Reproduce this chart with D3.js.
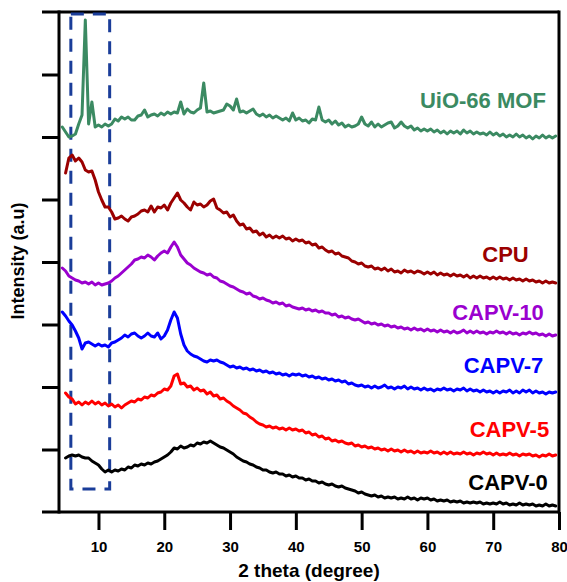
<!DOCTYPE html>
<html>
<head>
<meta charset="utf-8">
<script src="https://cdn.jsdelivr.net/npm/d3@7"></script>
<style>
  html, body { margin: 0; padding: 0; background: #fff; }
  svg { display: block; font-family: "Liberation Sans", Arial, sans-serif; font-weight: bold; }
</style>
</head>
<body>
<svg id="chart" width="567" height="582"></svg>
<script>
// ---- data ----
const twoTheta = [
  4.5,5,5.5,6,6.5,7,7.5,8,8.5,9,
  9.5,10,10.5,11,11.5,12,12.5,13,13.5,14,
  14.5,15,15.5,16,16.5,17,17.5,18,18.5,19,
  19.5,20,20.5,21,21.5,22,22.5,23,23.5,24,
  24.5,25,25.5,26,26.5,27,27.5,28,28.5,29,
  29.5,30,30.5,31,31.5,32,32.5,33,33.5,34,
  34.5,35,35.5,36,36.5,37,37.5,38,38.5,39,
  39.5,40,40.5,41,41.5,42,42.5,43,43.5,44,
  44.5,45,45.5,46,46.5,47,47.5,48,48.5,49,
  49.5,50,50.5,51,51.5,52,52.5,53,53.5,54,
  54.5,55,55.5,56,56.5,57,57.5,58,58.5,59,
  59.5,60,60.5,61,61.5,62,62.5,63,63.5,64,
  64.5,65,65.5,66,66.5,67,67.5,68,68.5,69,
  69.5,70,70.5,71,71.5,72,72.5,73,73.5,74,
  74.5,75,75.5,76,76.5,77,77.5,78,78.5,79,
  79.5
];

const uio66 = [
  385,380,375,376,378,388,397,492,388,410,
  385,387,385,388,386,388,393,391,395,393,
  395,392,392,396,397,402,395,397,398,396,
  399,397,400,398,400,399,410,398,403,400,
  399,402,404,429,400,401,399,400,401,402,
  408,406,402,413,400,401,399,401,403,398,
  396,398,395,397,394,396,394,392,394,391,
  399,392,394,391,392,389,393,392,405,392,
  390,392,388,391,387,389,385,387,385,386,
  388,395,388,386,390,385,388,385,387,389,
  390,384,386,390,386,384,386,382,384,381,
  383,381,383,380,382,379,381,378,381,379,
  381,378,382,379,381,378,380,378,379,377,
  380,377,379,376,378,375,377,375,378,375,
  377,374,376,373,376,374,377,374,376,374,
  376
];

const cpu = [
  null,339,354,357,351,354,350,342,340,341,
  332,320,312,305,305,300,293,294,296,293,
  291,295,296,298,301,302,300,306,300,305,
  304,307,302,309,314,319,312,309,305,302,
  310,307,308,305,307,311,313,304,302,299,
  300,295,297,291,287,288,283,284,280,281,
  277,279,275,277,274,276,274,276,273,274,
  271,273,271,272,269,270,267,268,264,265,
  262,260,261,258,259,256,255,254,251,250,
  248,249,246,245,246,243,244,242,244,241,
  243,240,241,239,242,240,241,239,241,240,
  238,240,238,240,237,239,237,238,236,238,
  236,237,235,237,234,236,234,236,234,235,
  233,235,233,235,233,234,232,234,232,233,
  231,233,231,232,230,231,229,231,229,230,
  229
];

const capv10 = [
  244,241,236,234,232,231,229,230,228,230,
  227,229,227,228,229,231,234,236,239,242,
  245,248,252,253,255,254,257,255,252,256,
  259,261,259,265,270,265,257,253,249,247,
  244,242,240,239,237,238,235,234,231,230,
  228,226,225,223,221,220,218,219,216,215,
  213,214,212,211,209,210,208,209,206,207,
  205,204,203,204,202,203,201,202,200,201,
  199,199,197,198,195,196,194,195,193,192,
  193,191,189,190,188,189,187,188,186,187,
  185,186,184,185,183,184,182,184,182,183,
  181,183,181,182,180,182,180,181,179,181,
  179,180,182,179,181,179,181,179,180,178,
  180,179,181,179,180,178,180,178,179,177,
  179,178,180,178,179,177,178,176,178,176,
  177
];

const capv7 = [
  200,196,191,187,181,174,163,169,170,168,
  166,168,166,167,165,169,170,172,174,177,
  175,178,179,176,174,176,179,176,175,179,
  173,176,182,192,200,194,178,167,161,158,
  156,155,153,151,150,152,151,152,150,149,
  147,145,146,144,145,143,144,142,143,141,
  142,140,141,139,140,138,139,137,138,136,
  138,137,138,136,137,135,136,134,135,133,
  134,132,133,131,132,130,131,128,129,127,
  126,127,125,126,124,126,124,125,127,124,
  125,123,125,124,126,123,125,123,124,122,
  124,122,123,121,123,122,124,122,123,121,
  123,122,124,121,123,121,122,120,122,120,
  121,119,121,119,121,120,122,119,121,119,
  122,120,122,119,121,119,120,118,120,119,
  120
];

const capv5 = [
  null,119,115,113,108,110,107,110,108,111,
  108,110,107,109,106,108,105,107,104,107,
  109,111,110,113,112,115,114,117,116,119,
  120,123,122,126,136,138,128,129,125,126,
  122,124,121,122,118,120,116,117,113,114,
  111,109,106,104,102,99,98,95,93,90,
  88,87,85,86,84,85,83,84,82,84,
  82,83,81,82,79,80,77,78,75,76,
  73,74,71,72,70,71,69,68,69,66,
  67,65,66,64,65,63,64,62,63,61,
  63,61,62,60,62,60,61,59,61,59,
  60,59,61,59,60,58,60,58,60,58,
  59,58,60,58,59,57,59,58,60,58,
  59,57,59,57,58,57,59,57,58,56,
  58,57,58,56,57,55,57,56,58,56,
  57
];

const capv0 = [
  null,54,56,57,56,57,55,54,54,51,
  49,47,43,40,42,40,42,41,43,42,
  45,44,47,46,48,47,49,48,50,51,
  53,55,57,60,64,63,66,64,65,67,
  66,69,68,70,69,71,69,67,65,64,
  62,60,58,55,53,51,50,48,47,45,
  44,42,42,40,39,40,38,38,36,37,
  35,36,34,34,32,33,31,31,29,30,
  28,27,28,26,25,26,24,23,22,21,
  19,20,18,17,16,17,15,16,14,15,
  14,15,13,14,13,15,13,14,12,14,
  13,14,12,13,11,12,11,12,10,11,
  10,11,9,10,9,10,9,10,8,9,
  8,9,8,10,8,9,7,8,7,9,
  7,8,7,8,6,7,6,8,6,7,
  6
];

const seriesNames = ["UiO-66 MOF", "CPU", "CAPV-10", "CAPV-7", "CAPV-5", "CAPV-0"];
const seriesValues = [uio66, cpu, capv10, capv7, capv5, capv0];
const xTickValues = [10, 20, 30, 40, 50, 60, 70, 80];
const yTickValues = [62.5, 125, 187.5, 250, 312.5, 375, 437.5];
const highlightRange = [5.8, 11.7]; // 2θ window marked by dashed box
const highlightIntensity = [23, 498];

// ---- styles / layout ----
const colors = ["#3b8a62", "#9b0000", "#9a00cf", "#0000ff", "#ff0000", "#000000"];
const labelAnchor = [[78.0, 404], [75.4, 250], [77.7, 192], [77.6, 139], [78.5, 75], [78.3, 22]];

const svg = d3.select("#chart");
const mLeft = 59, mRight = 559, mTop = 12, mBottom = 512;

const x = d3.scaleLinear().domain([4, 80]).range([mLeft, mRight]);
const y = d3.scaleLinear().domain([0, 500]).range([mBottom, mTop]);

// frame
const frame = svg.append("g").attr("stroke", "#000").attr("stroke-width", 3).attr("fill", "none");
frame.append("line").attr("x1", 42).attr("x2", mRight).attr("y1", mTop).attr("y2", mTop);
frame.append("line").attr("x1", 42).attr("x2", mRight).attr("y1", mBottom).attr("y2", mBottom);
frame.append("line").attr("x1", mLeft).attr("x2", mLeft).attr("y1", mTop - 1.5).attr("y2", mBottom + 1.5);
frame.append("line").attr("x1", mRight).attr("x2", mRight).attr("y1", mTop - 1.5).attr("y2", mBottom + 1.5);

// x axis
const xAxis = d3.axisBottom(x).tickValues(xTickValues).tickSize(18).tickPadding(11).tickFormat(d3.format("d"));
const gx = svg.append("g").attr("transform", `translate(0,${mBottom})`).call(xAxis);
gx.select(".domain").remove();
gx.selectAll(".tick line").attr("stroke", "#000").attr("stroke-width", 3);
gx.selectAll(".tick text").attr("font-size", 15).attr("font-weight", "bold")
  .attr("font-family", "'Liberation Sans', Arial, sans-serif").attr("fill", "#000");

// y axis
const yAxis = d3.axisLeft(y).tickValues(yTickValues).tickSize(17).tickFormat("");
const gy = svg.append("g").attr("transform", `translate(${mLeft},0)`).call(yAxis);
gy.select(".domain").remove();
gy.selectAll(".tick line").attr("stroke", "#000").attr("stroke-width", 3);

// axis titles
svg.append("text").attr("x", 309).attr("y", 577).attr("text-anchor", "middle")
  .attr("font-size", 19).attr("fill", "#000").text("2 theta (degree)");
svg.append("text").attr("transform", "translate(24,261) rotate(-90)").attr("text-anchor", "middle")
  .attr("font-size", 18).attr("fill", "#000").text("Intensity (a.u)");

// dashed highlight box
svg.append("rect")
  .attr("x", x(highlightRange[0])).attr("y", y(highlightIntensity[1]))
  .attr("width", x(highlightRange[1]) - x(highlightRange[0]))
  .attr("height", y(highlightIntensity[0]) - y(highlightIntensity[1]))
  .attr("fill", "none").attr("stroke", "#1a3d99").attr("stroke-width", 3)
  .attr("stroke-dasharray", "13,9");

// curves
const line = d3.line()
  .defined((d) => d[1] != null)
  .x((d) => x(d[0]))
  .y((d) => y(d[1]));

seriesValues.forEach((vals, i) => {
  const pts = twoTheta.map((t, j) => [t, vals[j]]);
  svg.append("path").datum(pts)
    .attr("d", line)
    .attr("fill", "none")
    .attr("stroke", colors[i])
    .attr("stroke-width", 3)
    .attr("stroke-linejoin", "round")
    .attr("stroke-linecap", "round");
});

// series labels
seriesNames.forEach((name, i) => {
  svg.append("text")
    .attr("x", x(labelAnchor[i][0])).attr("y", y(labelAnchor[i][1]))
    .attr("text-anchor", "end").attr("font-size", 22).attr("fill", colors[i])
    .text(name);
});
</script>
</body>
</html>
